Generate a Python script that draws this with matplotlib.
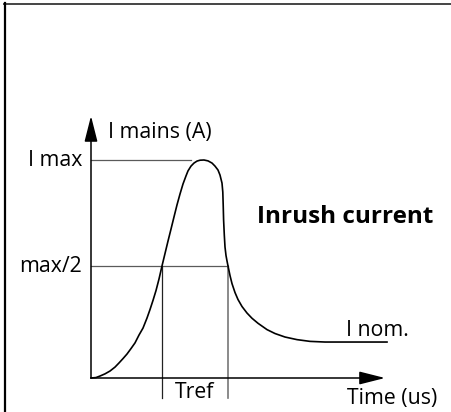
import numpy as np
import matplotlib
matplotlib.use("Agg")
import matplotlib.pyplot as plt
from matplotlib.lines import Line2D

plt.rcParams["font.family"] = ["Open Sans", "DejaVu Sans"]

# inrush current curve, time in us (arbitrary), current normalised to I max
time_us = [0, 5, 9, 14, 19, 24, 28, 32, 36, 40, 44, 48, 52, 56, 59, 62, 65, 68,
           71, 74, 77, 80, 83, 86, 89, 92, 95, 97, 100, 103, 106, 109,
           113, 117, 121, 124, 127, 129, 131, 131.8, 132.2, 132.6, 133.3, 134,
           135, 136, 137, 139, 141, 144, 147, 151, 156, 161, 167, 176, 184, 194,
           206, 219, 234, 296]
current = [0.0, 0.002, 0.009, 0.019, 0.032, 0.050, 0.069, 0.089, 0.110, 0.135,
           0.161, 0.197, 0.229, 0.275, 0.314, 0.356, 0.401, 0.454, 0.514, 0.571,
           0.628, 0.683, 0.739, 0.794, 0.844, 0.890, 0.927, 0.950,
           0.972, 0.986, 0.995, 0.999, 1.0, 0.996, 0.986, 0.972, 0.954, 0.931,
           0.894, 0.853, 0.794, 0.725, 0.656, 0.601, 0.562, 0.537, 0.514, 0.470,
           0.433, 0.392, 0.360, 0.328, 0.298, 0.274, 0.251, 0.222, 0.204, 0.188,
           0.176, 0.168, 0.165, 0.165]

i_max = 1.0
i_half = 0.514
t_ref = [71, 137]        # crossings of max/2
t_imax_end = 100         # end of I max guide line
t_axis_end = 294
i_axis_end = 1.202

fig = plt.figure(figsize=(4.51, 4.12), dpi=100)
ax = fig.add_axes([0, 0, 1, 1])
# px -> data: t = px - 91, I = (378 - py) / 218
ax.set_xlim(-91, 360)
ax.set_ylim((378 - 412) / 218, 378 / 218)
ax.axis("off")

grey = "#5a5a5a"
lw_ref = 0.9
# guide lines
ax.plot([0, t_imax_end], [i_max, i_max], color=grey, lw=lw_ref)
ax.plot([0, t_ref[1]], [i_half, i_half], color=grey, lw=lw_ref)
ax.plot([t_ref[0], t_ref[0]], [i_half, -0.092], color="#222222", lw=lw_ref)
ax.plot([t_ref[1], t_ref[1]], [i_half, -0.092], color="#777777", lw=1.2)

# axes with arrows
arrow = dict(arrowstyle="-|>,head_length=0.79,head_width=0.2", color="black",
             lw=1.1, mutation_scale=20, shrinkA=0, shrinkB=0)
ax.annotate("", xy=(0, i_axis_end), xytext=(0, 0), arrowprops=arrow)
ax.annotate("", xy=(t_axis_end, 0), xytext=(0, 0), arrowprops=arrow)

# curve
ax.plot(time_us, current, color="black", lw=1.2, solid_joinstyle="round")

fs = 15.3
ax.text(17, (378 - 138) / 218, "I mains (A)", fontsize=fs, ha="left", va="baseline")
ax.text(-9, (378 - 166) / 218, "I max", fontsize=fs, ha="right", va="baseline")
ax.text(-9, (378 - 272) / 218, "max/2", fontsize=fs, ha="right", va="baseline")
ax.text(166, (378 - 223) / 218, "Inrush current", fontsize=17.5,
        fontweight="bold", ha="left", va="baseline")
ax.text(255, (378 - 336) / 218, "I nom.", fontsize=fs, ha="left", va="baseline")
ax.text((t_ref[0] + t_ref[1]) / 2, (378 - 398) / 218, "Tref", fontsize=fs,
        ha="center", va="baseline")
ax.text(256, (378 - 404) / 218, "Time (us)", fontsize=fs, ha="left", va="baseline")

# frame on top and left edges
fig.lines.append(Line2D([4 / 451, 1], [1 - 3.5 / 412] * 2, transform=fig.transFigure,
                        color="#444444", lw=1.4))
fig.lines.append(Line2D([4.5 / 451] * 2, [0, 1 - 3 / 412], transform=fig.transFigure,
                        color="black", lw=1.6))

fig.savefig("out.png", dpi=100)
plt.close(fig)
